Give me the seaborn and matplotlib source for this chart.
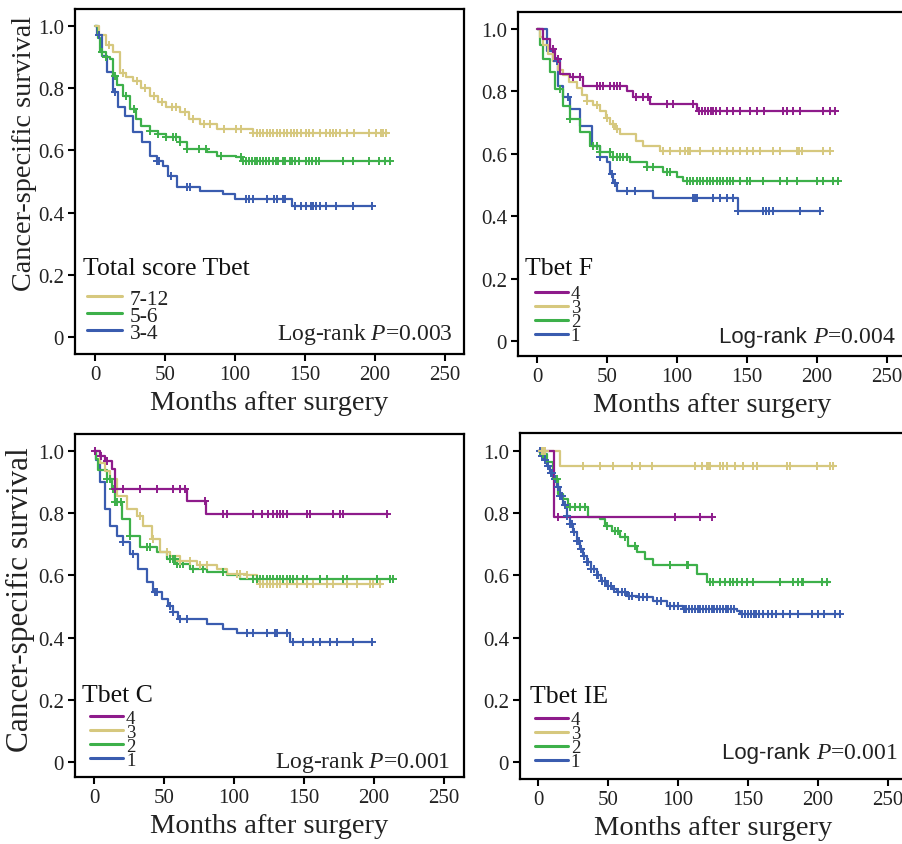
import numpy as np
import pandas as pd
import matplotlib
matplotlib.use("Agg")
import matplotlib.pyplot as plt
import seaborn as sns
from matplotlib.lines import Line2D

sns.set_theme(style="white")
plt.rcParams['font.family'] = ['Liberation Serif', 'DejaVu Serif']
plt.rcParams['mathtext.fontset'] = 'custom'
plt.rcParams['mathtext.it'] = 'Liberation Serif:italic'
plt.rcParams['mathtext.rm'] = 'Liberation Serif'

YEL = '#D6C87E'
GRN = '#3DB04A'
BLU = '#3A5CAF'
PUR = '#8E1B8B'

# ---------------- Panel 1: Total score Tbet ----------------
p1_labels = ['7-12', '5-6', '3-4']
p1_y_t = [0, 3, 8, 13, 18, 22, 27, 33, 39, 45, 51, 61, 67, 75, 87, 113, 209]
p1_y_s = [1.0, 0.97, 0.94, 0.915, 0.85, 0.835, 0.824, 0.80, 0.776, 0.755, 0.739, 0.723, 0.70, 0.685, 0.669, 0.656, 0.656]
p1_y_c = [10, 20, 30, 36, 42, 48, 55, 58, 64, 70, 78, 82, 92, 101, 104, 113, 116, 118, 120, 123, 125, 127, 130,
          132, 135, 137, 140, 142, 144, 147, 151, 153, 156, 161, 165, 168, 170, 172, 175, 180, 185, 196, 201, 204, 206, 208]
p1_g_t = [0, 2, 3.6, 8, 10.7, 13, 16, 20, 25, 29, 33, 39, 45, 51, 61, 65.5, 80, 87, 101, 105, 211]
p1_g_s = [1.0, 0.96, 0.915, 0.90, 0.894, 0.84, 0.81, 0.776, 0.733, 0.70, 0.679, 0.663, 0.652, 0.642, 0.626, 0.604, 0.594, 0.583, 0.578, 0.567, 0.567]
p1_g_c = [5, 8, 14, 22, 28, 39, 45, 51, 56, 58, 61, 66, 74, 79, 90, 104, 106, 108, 110, 112, 114, 116, 118, 120, 122,
          124, 127, 129, 131, 134, 136, 139, 141, 143, 146, 151, 153, 155, 158, 160, 177, 184, 196, 203, 207, 211]
p1_b_t = [0, 1.2, 4.8, 8.3, 13, 16.7, 21.4, 27.4, 33.3, 39.3, 44, 48.8, 52.4, 58.3, 75, 91.7, 100, 140.5, 198]
p1_b_s = [1.0, 0.97, 0.905, 0.851, 0.787, 0.739, 0.712, 0.658, 0.626, 0.583, 0.565, 0.551, 0.519, 0.481, 0.470, 0.460, 0.444, 0.421, 0.421]
p1_b_c = [3, 14, 44, 46, 54, 66, 68, 108, 110, 113, 123, 128, 130, 134, 136, 143, 147, 151, 154, 156, 158, 161, 165, 172, 184, 198]

# ---------------- Panel 2: Tbet F ----------------
p2_labels = ['4', '3', '2', '1']
p2_p_t = [0, 4.5, 9.3, 12.9, 16.4, 23.6, 33.1, 64, 68.8, 80.7, 114, 213]
p2_p_s = [1.0, 0.968, 0.936, 0.904, 0.856, 0.845, 0.818, 0.802, 0.781, 0.760, 0.738, 0.738]
p2_p_c = [11.7, 15.2, 26, 30.7, 42.6, 45, 47.4, 52, 55, 57, 59.3, 71, 76, 79.5, 92.6, 97.4, 111.7, 116, 118, 120, 122,
          124, 126, 128, 130.7, 135.5, 140.2, 145, 152, 157, 162, 176, 178.3, 183, 188, 204.5, 209.3, 212.9]
p2_y_t = [0, 2, 4.5, 8, 11.7, 15, 18.8, 23, 28.3, 32, 35.5, 40, 45, 49, 52, 56, 59.3, 71, 76, 87.9, 209.3]
p2_y_s = [1.0, 0.975, 0.95, 0.92, 0.897, 0.87, 0.854, 0.83, 0.812, 0.79, 0.769, 0.755, 0.737, 0.715, 0.695, 0.68, 0.663, 0.642, 0.626, 0.610, 0.610]
p2_y_c = [35.5, 42.6, 49.8, 54.5, 57, 90.2, 95, 102.1, 106, 107.5, 109, 116.4, 125.9, 130.7, 135.5, 140.2, 145, 149.8,
          154.5, 159.3, 168.8, 173.6, 185.5, 187, 189, 204.5, 209.3]
p2_g_t = [0, 2, 4.5, 9.3, 12.9, 18.8, 23.6, 30.7, 37.9, 45, 52.1, 66.4, 78.3, 90.2, 99.8, 104.5, 215.2]
p2_g_s = [1.0, 0.95, 0.904, 0.861, 0.808, 0.754, 0.712, 0.669, 0.626, 0.605, 0.589, 0.573, 0.557, 0.541, 0.525, 0.512, 0.512]
p2_g_c = [16.4, 23.6, 40.2, 42.6, 45, 52, 54.5, 57, 59.3, 61.7, 64, 78.3, 83.1, 92.6, 95, 106.9, 109, 111.7, 114, 116.4,
          118.8, 121.2, 123.5, 125.9, 128.3, 130.7, 133, 135.5, 137.8, 140.2, 145, 149.8, 152, 161.7, 173.6, 178.3,
          185.5, 199.7, 204.5, 211.7, 215.2]
p2_b_t = [0, 6.9, 11.7, 15.2, 18.8, 23.6, 30.7, 39.05, 45, 49.8, 52.1, 54.5, 56.9, 83.1, 143.8, 202.1]
p2_b_s = [1.0, 0.93, 0.897, 0.818, 0.781, 0.744, 0.690, 0.626, 0.589, 0.573, 0.535, 0.508, 0.482, 0.457, 0.418, 0.418]
p2_b_c = [14.1, 22.4, 45, 53.3, 55.7, 64, 70, 111.7, 113, 114.5, 125.9, 130.7, 135.5, 140.2, 143.8, 161.7, 163.5,
          166, 168.8, 187.9, 202.1]

# ---------------- Panel 3: Tbet C ----------------
p3_labels = ['4', '3', '2', '1']
p3_p_t = [0, 4.3, 7.9, 12.6, 15, 66.2, 80, 210.2]
p3_p_s = [1.0, 0.985, 0.969, 0.942, 0.878, 0.840, 0.797, 0.797]
p3_p_c = [1, 5, 9, 15, 21, 32.9, 44.8, 56.7, 61.4, 64.8, 79.3, 92.4, 94.8, 113.8, 119.8, 124.5, 128.1, 130.5, 132.9,
          135.2, 137.6, 151.9, 154.3, 171, 175.7, 178.1, 209]
p3_y_t = [0, 4.3, 8, 11.4, 16.2, 23.3, 30.5, 35.2, 41.2, 47.1, 54.3, 61.4, 73.3, 87.6, 94.8, 109, 116.2, 118.6, 205.5]
p3_y_s = [1.0, 0.963, 0.935, 0.910, 0.856, 0.813, 0.792, 0.760, 0.717, 0.674, 0.664, 0.648, 0.632, 0.621, 0.605, 0.600, 0.583, 0.573, 0.573]
p3_y_c = [32.9, 42.4, 51.9, 61.4, 68.6, 75.7, 80.5, 101.9, 104.3, 109, 118.6, 121, 123.3, 125.7, 128.1, 130.5, 132.9,
          137.6, 144.8, 151.9, 156.7, 166.2, 171, 180.5, 187.6, 197.1, 199.5, 204.3]
p3_g_t = [0, 1.5, 3.1, 9, 12.6, 15, 19.8, 25.7, 32.9, 44.8, 51.9, 59, 68.6, 80.5, 94.8, 104.3, 213.8]
p3_g_s = [1.0, 0.975, 0.938, 0.910, 0.878, 0.835, 0.781, 0.728, 0.690, 0.674, 0.653, 0.637, 0.621, 0.610, 0.600, 0.590, 0.590]
p3_g_c = [9, 11.4, 13.8, 15, 16.2, 19, 25.7, 37.6, 40, 54.3, 56.7, 58, 59, 61.4, 63.8, 71, 78.1, 92.4, 113.8, 116.2,
          118.6, 121, 123.3, 125.7, 128.1, 130.5, 132.9, 135.2, 137.6, 140, 142.4, 144.8, 149.5, 151.9, 161.4, 166.2,
          178.1, 180.5, 201.9, 211.4, 213.8]
p3_b_t = [0, 1.5, 4.3, 7.9, 11.4, 16.2, 21, 25.7, 31.7, 37.6, 42.4, 48.3, 53.1, 56.7, 60.2, 80.5, 92.4, 101.9, 140, 198.3]
p3_b_s = [1.0, 0.97, 0.899, 0.813, 0.760, 0.728, 0.706, 0.669, 0.621, 0.578, 0.546, 0.525, 0.503, 0.481, 0.460, 0.444, 0.428, 0.415, 0.385, 0.385]
p3_b_c = [21, 28.1, 43.6, 44.8, 54.3, 56.7, 61.4, 66.2, 109, 113.8, 123.3, 129.3, 130.5, 137.6, 142.4, 149.5, 156.7,
          161.4, 168.6, 173.3, 185.2, 198.3]

# ---------------- Panel 4: Tbet IE ----------------
p4_labels = ['4', '3', '2', '1']
p4_p_t = [0, 11.4, 124]
p4_p_s = [1.0, 0.787, 0.787]
p4_p_c = [14.5, 97.9, 115.7, 124]
p4_y_t = [0, 15.7, 212.1]
p4_y_s = [1.0, 0.953, 0.953]
p4_y_c = [2.6, 3.8, 5, 32.4, 44.3, 53.8, 66.9, 72.9, 81.2, 112.1, 116.9, 120.5, 121.7, 122.9, 130, 132.4, 134.8,
          140.7, 146.7, 153.8, 156.2, 177.6, 180, 199, 208.6, 210.9]
p4_g_t = [0, 3, 6.2, 11, 14.5, 18.1, 21.7, 35.95, 44.3, 47.9, 52.6, 58.6, 64.5, 70.5, 76.4, 82.4, 113.3, 120.5, 208.6]
p4_g_s = [1.0, 0.99, 0.964, 0.910, 0.862, 0.846, 0.819, 0.787, 0.782, 0.760, 0.744, 0.723, 0.696, 0.675, 0.653, 0.632, 0.605, 0.580, 0.580]
p4_g_c = [3.8, 13.3, 22.9, 26.4, 30, 33.6, 49, 55, 57.4, 62.1, 69.3, 94.3, 106.2, 107.4, 122.9, 125.2, 130, 133.6,
          137.1, 139.5, 141.9, 145.5, 149, 153.8, 172.9, 182.4, 186, 188.3, 189.5, 202.6, 206.2]
p4_b_t = [0, 2, 4, 6.2, 8.6, 11, 13.3, 15.7, 18.1, 20.5, 22.9, 25.2, 27.6, 30, 32.4, 34.8, 38, 41.9, 45, 49, 52.6,
          56.2, 63.3, 70.5, 82.4, 91.9, 103.8, 141.9, 144.3, 215.7]
p4_b_s = [1.0, 0.985, 0.97, 0.953, 0.93, 0.910, 0.885, 0.856, 0.825, 0.792, 0.765, 0.739, 0.71, 0.685, 0.663, 0.642,
          0.62, 0.600, 0.583, 0.567, 0.556, 0.546, 0.535, 0.530, 0.519, 0.503, 0.492, 0.487, 0.476, 0.476]
p4_b_c = [1.5, 3, 5, 7, 9, 10, 12, 14, 16, 17, 19, 21, 23, 24, 26, 28, 29, 31, 33, 35, 36, 38, 40, 42, 43, 46, 48, 50,
          52, 54, 57, 60, 62, 65, 67, 72, 75, 78, 85, 88, 94, 97, 100, 104, 106, 108, 110, 112, 114, 116, 118, 120,
          122, 124, 126, 128, 130, 132, 134, 136, 138, 140, 146, 148, 150, 152, 154, 156, 158, 161, 164, 167, 170,
          175, 180, 186, 196, 200, 204, 212, 215.7]

y_ticks = [0, 0.2, 0.4, 0.6, 0.8, 1.0]
y_ticklabels = ['0', '0.2', '0.4', '0.6', '0.8', '1.0']
x_ticks = [0, 50, 100, 150, 200, 250]
x_label = 'Months after surgery'
y_label = 'Cancer-specific survival'


def km(ax, times, surv, cens, color):
    df = pd.DataFrame({'t': times, 's': surv})
    sns.lineplot(data=df, x='t', y='s', drawstyle='steps-post', estimator=None, sort=False,
                 color=color, lw=1.6, ax=ax)
    t = np.asarray(times)
    s = np.asarray(surv)
    c = np.asarray(cens, dtype=float)
    cy = s[np.clip(np.searchsorted(t, c, side='right') - 1, 0, len(s) - 1)]
    ax.plot(c, cy, linestyle='none', marker='+', color=color, markersize=6, mew=1.4, zorder=3)


W, H = 902, 845
fig = plt.figure(figsize=(W / 100, H / 100), dpi=100)


def make_ax(l, r, t, b, xlim, ylim):
    ax = fig.add_axes([l / W, (H - b) / H, (r - l) / W, (b - t) / H])
    ax.set_xlim(*xlim)
    ax.set_ylim(*ylim)
    for sp in ax.spines.values():
        sp.set_color('black')
        sp.set_linewidth(1.6)
    ax.set_xticks(x_ticks)
    ax.set_yticks(y_ticks)
    ax.set_yticklabels(y_ticklabels)
    ax.tick_params(direction='out', length=5, width=1.5, color='black', labelsize=15,
                   labelcolor='#222222', bottom=True, left=True, pad=3)
    return ax


panels = [
    dict(box=(75, 464, 10, 355), xlim=(-14.3, 263.6), ylim=(-0.0547, 1.0547), title='Total score Tbet',
         labels=p1_labels, curves=[(p1_y_t, p1_y_s, p1_y_c, YEL), (p1_g_t, p1_g_s, p1_g_c, GRN), (p1_b_t, p1_b_s, p1_b_c, BLU)],
         p='0.003', ptxt=(0.972, 0.058), sans=False, ylab=20.3, ylabpos=(-0.098, 0.583),
         leg=dict(x=0.031, y=0.111, fs=15.5, spacing=-0.14, hl=1.63, tp=0.37),
         ttl=(0.021, 0.25)),
    dict(box=(518, 906, 13, 357), xlim=(-13.6, 263.6), ylim=(-0.048, 1.0545), title='Tbet F',
         labels=p2_labels, curves=[(p2_p_t, p2_p_s, p2_p_c, PUR), (p2_y_t, p2_y_s, p2_y_c, YEL), (p2_g_t, p2_g_s, p2_g_c, GRN), (p2_b_t, p2_b_s, p2_b_c, BLU)],
         p='0.004', ptxt=(0.974, 0.058), sans=True, ylab=None, ylabpos=None,
         leg=dict(x=0.044, y=0.12, fs=13.5, spacing=-0.17, hl=1.76, tp=0.15),
         ttl=(0.018, 0.255)),
    dict(box=(75, 464, 435, 778), xlim=(-13.6, 264.3), ylim=(-0.048, 1.0547), title='Tbet C',
         labels=p3_labels, curves=[(p3_p_t, p3_p_s, p3_p_c, PUR), (p3_y_t, p3_y_s, p3_y_c, YEL), (p3_g_t, p3_g_s, p3_g_c, GRN), (p3_b_t, p3_b_s, p3_b_c, BLU)],
         p='0.001', ptxt=(0.964, 0.044), sans=False, ylab=22.5, ylabpos=(-0.103, 0.52),
         leg=dict(x=0.039, y=0.11, fs=13.5, spacing=-0.17, hl=1.76, tp=0.15),
         ttl=(0.018, 0.24)),
    dict(box=(520, 906, 434, 780), xlim=(-12.9, 262.9), ylim=(-0.0547, 1.058), title='Tbet IE',
         labels=p4_labels, curves=[(p4_p_t, p4_p_s, p4_p_c, PUR), (p4_y_t, p4_y_s, p4_y_c, YEL), (p4_g_t, p4_g_s, p4_g_c, GRN), (p4_b_t, p4_b_s, p4_b_c, BLU)],
         p='0.001', ptxt=(0.979, 0.078), sans=True, ylab=None, ylabpos=None,
         leg=dict(x=0.039, y=0.111, fs=13.5, spacing=-0.17, hl=1.76, tp=0.15),
         ttl=(0.026, 0.24)),
]

for pn in panels:
    l, r, t, b = pn['box']
    ax = make_ax(l, r, t, b, pn['xlim'], pn['ylim'])
    for (tt, ss, cc, col) in reversed(pn['curves']):
        km(ax, tt, ss, cc, col)
    colors = [c[3] for c in pn['curves']]
    handles = [Line2D([0], [0], color=c, lw=2.2) for c in colors]
    lg = pn['leg']
    leg = ax.legend(handles, pn['labels'], loc='center left',
                    bbox_to_anchor=(lg['x'], lg['y']), frameon=False, prop={'size': lg['fs']},
                    handlelength=lg['hl'], handletextpad=lg['tp'],
                    labelspacing=lg['spacing'], borderaxespad=0.0, borderpad=0.0)
    for txt in leg.get_texts():
        txt.set_color('#222222')
    ax.text(pn['ttl'][0], pn['ttl'][1], pn['title'], transform=ax.transAxes, ha='left', va='center',
            fontsize=18.5, color='#111111')
    if pn['sans']:
        ptext = ax.text(pn['ptxt'][0], pn['ptxt'][1], '$P$=' + pn['p'], transform=ax.transAxes,
                        ha='right', va='center', fontsize=17, color='#222222')
        ax.annotate('Log-rank ', xy=(0, 0.5), xycoords=ptext, ha='right', va='center',
                    fontsize=16, color='#222222', family=['Liberation Sans', 'DejaVu Sans'])
    else:
        ax.text(pn['ptxt'][0], pn['ptxt'][1], 'Log-rank $P$=' + pn['p'], transform=ax.transAxes,
                ha='right', va='center', fontsize=17, color='#222222')
    ax.set_xlabel(x_label, fontsize=20.5, color='#222222', labelpad=4)
    if pn['ylab']:
        ax.set_ylabel(y_label, fontsize=pn['ylab'], color='#222222')
        ax.yaxis.set_label_coords(*pn['ylabpos'])
    else:
        ax.set_ylabel('')

fig.savefig('out.png', dpi=100, facecolor='white')
